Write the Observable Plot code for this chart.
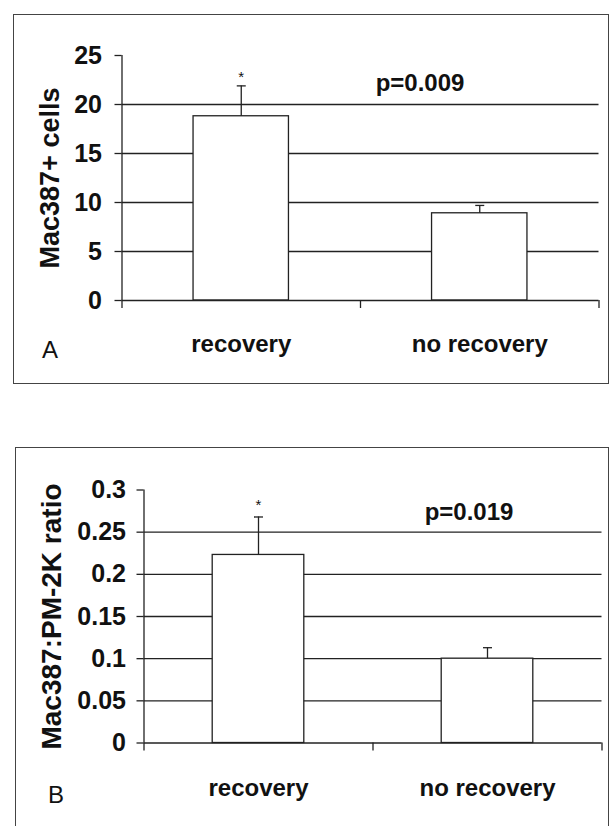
<!DOCTYPE html>
<html><head><meta charset="utf-8">
<script src="https://cdn.jsdelivr.net/npm/d3@7"></script>
<script src="https://cdn.jsdelivr.net/npm/@observablehq/plot@0.6"></script>
<style>
html,body{margin:0;padding:0;background:#fff;overflow:hidden;width:610px;height:826px}
.panel{position:absolute;border:1.5px solid #444;box-sizing:border-box;background:#fff}
.panel svg{display:block}
</style></head><body>
<div id="a" class="panel" style="left:13px;top:14px;width:596px;height:370px"></div>
<div id="b" class="panel" style="left:15px;top:447px;width:594px;height:400px"></div>
<script>
// ---- data ----
const categories = ["recovery", "no recovery"];
const cellsMean = [18.8, 8.9];
const cellsErr = [3.1, 0.8];
const ratioMean = [0.223, 0.1];
const ratioErr = [0.045, 0.013];
const significance = ["*", ""];
const cellsTicks = [0, 5, 10, 15, 20, 25];
const cellsGrid = [5, 10, 15, 20];
const ratioTicks = [0, 0.05, 0.1, 0.15, 0.2, 0.25, 0.3];
const ratioGrid = [0.05, 0.1, 0.15, 0.2, 0.25];
const boundaries = [0, 1, 2];
const cellsLabel = "Mac387+ cells";
const ratioLabel = "Mac387:PM-2K ratio";
const cellsP = "p=0.009";
const ratioP = "p=0.019";
const letters = ["A", "B"];

const INK = "#222";
const FONT = "'Liberation Sans', Arial, Helvetica, sans-serif";
const capSymbol = {draw(ctx, size) { const w = Math.sqrt(size / Math.PI); ctx.moveTo(-w, 0); ctx.lineTo(w, 0); }};

function panel(o) {
  const rows = categories.map((c, i) => ({cat: c, i, mean: o.means[i], top: o.means[i] + o.errs[i], sig: significance[i]}));
  const yMax = o.ticks[o.ticks.length - 1];
  return Plot.plot({
    width: o.width, height: o.height,
    marginLeft: o.ml, marginRight: o.mr, marginTop: o.mt, marginBottom: o.mb,
    style: {fontFamily: FONT, background: "transparent", color: "#111", overflow: "visible"},
    x: {type: "linear", domain: [0, 2], axis: null},
    y: {domain: [0, yMax], axis: null},
    marks: [
      Plot.ruleY(o.grid, {stroke: INK, strokeWidth: 1.3}),
      Plot.rectY(rows, {x1: d => d.i + 0.3, x2: d => d.i + 0.7, y1: 0, y2: "mean", fill: "white", stroke: INK, strokeWidth: 1.3}),
      Plot.ruleX(rows, {x: d => d.i + 0.5, y1: "mean", y2: "top", stroke: INK, strokeWidth: 1.3}),
      Plot.dot(rows, {x: d => d.i + 0.5, y: "top", symbol: capSymbol, r: 4.5, stroke: INK, fill: "none", strokeWidth: 1.3}),
      Plot.text(rows.filter(d => d.sig), {x: d => d.i + 0.5, y: "top", text: "sig", dy: o.sigDy, lineAnchor: "bottom", fontSize: 15, fill: "#111"}),
      Plot.ruleX([0], {y1: 0, y2: yMax, stroke: INK, strokeWidth: 1.3}),
      Plot.ruleY([0], {stroke: INK, strokeWidth: 1.3}),
      Plot.axisY(o.ticks, {tickSize: 7, tickPadding: o.tp, tickFormat: d => String(d), fontSize: 25, fontWeight: "bold", label: null, stroke: INK, strokeWidth: 1.3}),
      Plot.axisX(boundaries, {tickSize: 8, tickFormat: () => "", label: null, stroke: INK, strokeWidth: 1.3}),
      Plot.text(rows, {x: d => d.i + 0.5, y: 0, text: "cat", dy: o.catDy, lineAnchor: "bottom", fontSize: 24, fontWeight: "bold", fill: "#111"}),
      Plot.text([o.p], {frameAnchor: "top", dx: o.pDx, dy: o.pDy, lineAnchor: "middle", fontSize: 24, fontWeight: "bold", fill: "#111"}),
      Plot.text([o.letter], {frameAnchor: "bottom-left", textAnchor: "middle", dx: o.lDx, dy: o.lDy, lineAnchor: "bottom", fontSize: 24, fill: "#111"}),
      Plot.text([o.label], {frameAnchor: "left", textAnchor: "middle", rotate: -90, dx: o.yDx, dy: 0, lineAnchor: "middle", fontSize: o.yFs, fontWeight: "bold", fill: "#111"})
    ]
  });
}

document.getElementById("a").append(panel({
  means: cellsMean, errs: cellsErr, ticks: cellsTicks, grid: cellsGrid,
  label: cellsLabel, p: cellsP, letter: letters[0],
  width: 593, height: 367, ml: 107.5, mr: 8.5, mt: 40, mb: 82, tp: 13,
  sigDy: -4, catDy: 51.5, pDx: 59.5, pDy: 27.5, lDx: -72, lDy: 57.5, yDx: -72, yFs: 27
}));
document.getElementById("b").append(panel({
  means: ratioMean, errs: ratioErr, ticks: ratioTicks, grid: ratioGrid,
  label: ratioLabel, p: ratioP, letter: letters[1],
  width: 591, height: 397, ml: 127.5, mr: 5.5, mt: 41.5, mb: 102.5, tp: 11,
  sigDy: -7, catDy: 53, pDx: 96, pDy: 22, lDx: -88, lDy: 60, yDx: -92, yFs: 28
}));
</script>
</body></html>
